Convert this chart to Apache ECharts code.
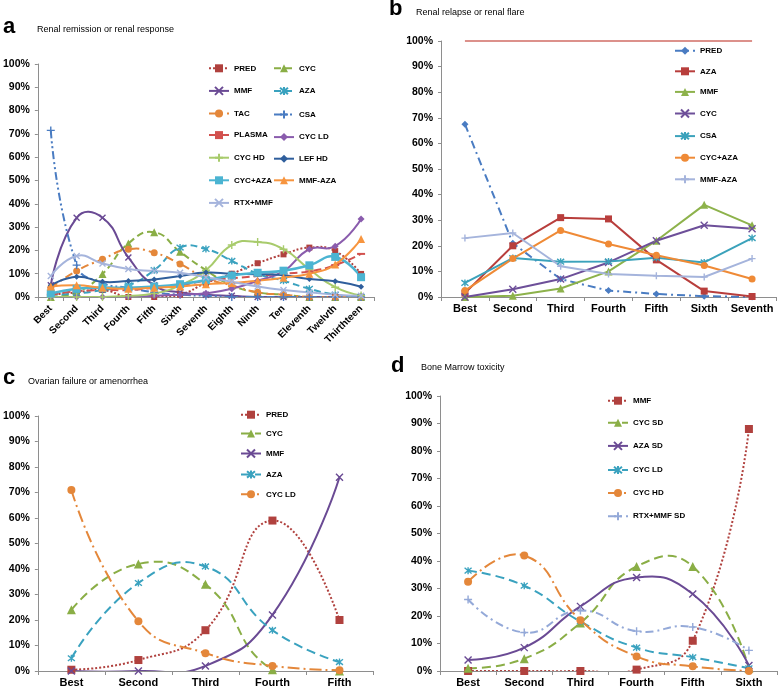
<!DOCTYPE html>
<html><head><meta charset="utf-8">
<script src="https://cdn.jsdelivr.net/npm/echarts@6/dist/echarts.min.js"></script>
<style>html,body{margin:0;padding:0;background:#fff}#c{width:778px;height:688px}</style>
</head><body><div id="c"></div>
<script>
// ---------- DATA ----------
const catsA = ['Best','Second','Third','Fourth','Fifth','Sixth','Seventh','Eighth','Ninth','Ten','Eleventh','Twelvth','Thirthteen'];
const catsB = ['Best','Second','Third','Fourth','Fifth','Sixth','Seventh'];
const catsC = ['Best','Second','Third','Fourth','Fifth'];
const catsD = ['Best','Second','Third','Fourth','Fifth','Sixth'];

// panel a: Renal remission or renal response (%)
const aPRED    = [1, 2, 3, 0, 0, 1, 6, 10, 14.5, 18.3, 21.2, 19.7, 9.9];
const aCYC     = [0, 2, 9.9, 23, 27.8, 19.4, 11.5, 5, 2, 1, 0, 0, 0];
const aMMF     = [5, 34, 34, 17, 5, 2, 1, 0.5, 0, 0, 0, 0, 0];
const aAZA     = [1, 1.5, 3, 5, 11.5, 21.2, 20.6, 15.5, 10, 7, 3.5, 1, 0];
const aTAC     = [4, 11.2, 16.2, 20.5, 19, 14.2, 8, 5, 2, 1, 0, 0, 0];
const aCSA     = [71.5, 13.7, 6, 4, 2, 1, 0.5, 0, 0, 0, 0, 0, 0];
const aPLASMA  = [1, 2.5, 3, 3, 4, 5, 7, 8, 9, 10, 11, 13.7, 18.5];
const aCYCLD   = [0, 0, 0, 0, 0.5, 1, 1.6, 3.5, 7, 11, 20.5, 21.8, 33.5];
const aCYCHD   = [0, 0, 0, 0.5, 1.5, 5, 11.5, 22.3, 23.6, 20.5, 11.9, 4.2, 0.6];
const aLEFHD   = [5, 8.7, 6.5, 6.9, 7.5, 9, 10.5, 10, 9.8, 9.3, 7.7, 6.8, 4.4];
const aCYCAZA  = [1.5, 3.5, 4, 4, 4.5, 5.5, 7.2, 9.2, 10.4, 11.3, 13.6, 17.2, 8.5];
const aMMFAZA  = [4.5, 5, 4, 3.5, 4, 4.5, 5.5, 6, 7, 8.3, 10, 14, 24.9];
const aRTXMMF  = [9, 17.6, 14.4, 12, 11.2, 10.4, 8.5, 6.5, 4.5, 3, 2, 1, 0.5];

// panel b: Renal relapse or renal flare (%)
const bTOP     = [100, 100, 100, 100, 100, 100, 100];
const bPRED    = [67.5, 21, 7, 2.5, 1.2, 0.3, 0];
const bAZA     = [1.5, 20, 31, 30.5, 14.5, 2.3, 0.2];
const bMMF     = [0, 0.5, 3.3, 10, 22, 36, 28];
const bCYC     = [0, 3, 7, 13.5, 22, 28, 26.7];
const bCSA     = [5.5, 15.2, 13.8, 13.9, 15.3, 13.5, 23];
const bCYCAZA  = [2.5, 15, 26, 20.7, 16.3, 12.3, 7];
const bMMFAZA  = [23, 25, 12, 9, 8.3, 7.8, 15];

// panel c: Ovarian failure or amenorrhea (%)
const cPRED    = [0.5, 4.3, 16, 59, 20];
const cCYC     = [24, 42, 34, 0.5, 0];
const cMMF     = [0, 0, 2, 22, 76];
const cAZA     = [5, 34.5, 41, 16, 3.5];
const cCYCLD   = [71, 19.5, 7, 2, 0.3];

// panel d: Bone Marrow toxicity (%)
const dMMF     = [0, 0, 0, 0.5, 11, 88];
const dCYCSD   = [1, 4.5, 17.5, 38, 38, 1];
const dAZASD   = [4, 8.5, 23.5, 34, 28, 2];
const dCYCLD   = [36.5, 31, 18, 8.5, 5, 1];
const dCYCHD   = [32.5, 42, 18.5, 5.3, 1.7, 0];
const dRTXMMF  = [26, 14, 22, 14.5, 16, 7.5];

const yTicks = [0,10,20,30,40,50,60,70,80,90,100];

// ---------- STYLE ----------
const FONT = '"Liberation Sans", Arial, sans-serif';
const SYM = {
  x: 'path://M0,0L10,10M10,0L0,10',
  plus: 'path://M5,0L5,10M0,5L10,5',
  star: 'path://M1,1L9,9M9,1L1,9M5,0L5,10'
};
const DOT = [2,2], DASH = [7,4], DASHDOT = [8,4,2,4], LDASHDOT = [12,4,2,4], DDD = [8,3,2,3,2,3];

function mk(panel, name, data, color, type, symbol, size, smooth, width) {
  const idx = 'abcd'.indexOf(panel);
  const w = width || 2;
  const isPath = typeof symbol === 'string' && symbol.indexOf('path://') === 0;
  const line = {
    type: 'line', name: panel + '|' + name, data: data,
    xAxisIndex: idx, yAxisIndex: idx, smooth: false, z: 3,
    symbol: symbol, symbolSize: size, showSymbol: symbol !== 'none',
    lineStyle: { color: color, width: smooth ? 0 : w, type: type || 'solid' },
    itemStyle: isPath ? { color: color, borderColor: color, borderWidth: 1.4 } : { color: color },
    emphasis: { disabled: true }, silent: true, animation: false
  };
  if (!smooth) return [line];
  const curve = {
    type: 'custom', name: panel + '|' + name + '~', xAxisIndex: idx, yAxisIndex: idx,
    silent: true, animation: false, z: 2, clip: true,
    data: data.map((v, i) => [i, v]),
    renderItem: function (params, api) {
      if (params.dataIndex !== 0) return null;
      const pts = data.map((v, i) => api.coord([i, v]));
      return { type: 'polyline', shape: { points: pts, smooth: 0.5 },
        style: { stroke: color, lineWidth: w, lineDash: (type === 'solid' || !type) ? null : type, fill: 'none' } };
    }
  };
  return [curve, line];
}

const series = [].concat(
  mk('a','PRED',aPRED,'#b0413e',DOT,'rect',6,true),
  mk('a','CYC',aCYC,'#8aae46',DASH,'triangle',8,true),
  mk('a','MMF',aMMF,'#6a4a94','solid',SYM.x,6,true),
  mk('a','AZA',aAZA,'#3aa2bf',DASH,SYM.star,7,true),
  mk('a','TAC',aTAC,'#e4873a',DASHDOT,'circle',7,true),
  mk('a','CSA',aCSA,'#4a7cc2',DDD,SYM.plus,8,true),
  mk('a','PLASMA',aPLASMA,'#d2514e',[8,4],'rect',[8,2],true),
  mk('a','CYC LD',aCYCLD,'#8a5cad','solid','diamond',7,true),
  mk('a','CYC HD',aCYCHD,'#a8cb6c','solid',SYM.plus,8,true),
  mk('a','LEF HD',aLEFHD,'#2f5e9c','solid','diamond',6,true),
  mk('a','CYC+AZA',aCYCAZA,'#4bb4d2','solid','rect',8,true,2.5),
  mk('a','MMF-AZA',aMMFAZA,'#f7953f','solid','triangle',8,true),
  mk('a','RTX+MMF',aRTXMMF,'#a5b4dc','solid',SYM.x,6,true),

  mk('b','TOP',bTOP,'#dc918b','solid','none',0,false,2),
  mk('b','PRED',bPRED,'#4a7cc2',DASHDOT,'diamond',7,false),
  mk('b','AZA',bAZA,'#b83e3c','solid','rect',7,false),
  mk('b','MMF',bMMF,'#8db24b','solid','triangle',8,false),
  mk('b','CYC',bCYC,'#6d4f99','solid',SYM.x,7,false),
  mk('b','CSA',bCSA,'#3ba2bb','solid',SYM.star,7,false),
  mk('b','CYC+AZA',bCYCAZA,'#ef8a36','solid','circle',7,false),
  mk('b','MMF-AZA',bMMFAZA,'#a5b4dc','solid',SYM.plus,7,false),

  mk('c','PRED',cPRED,'#b0413e',DOT,'rect',8,true),
  mk('c','CYC',cCYC,'#8aae46',[9,5],'triangle',9,true),
  mk('c','MMF',cMMF,'#6a4a94','solid',SYM.x,7,true),
  mk('c','AZA',cAZA,'#3aa2bf',[9,5],SYM.star,7,true),
  mk('c','CYC LD',cCYCLD,'#e4873a',LDASHDOT,'circle',8,true),

  mk('d','MMF',dMMF,'#b0413e',DOT,'rect',8,true),
  mk('d','CYC SD',dCYCSD,'#8aae46',[9,5],'triangle',9,true),
  mk('d','AZA SD',dAZASD,'#6a4a94','solid',SYM.x,7,true),
  mk('d','CYC LD',dCYCLD,'#3aa2bf',[9,5],SYM.star,7,true),
  mk('d','CYC HD',dCYCHD,'#e4873a',LDASHDOT,'circle',8,true),
  mk('d','RTX+MMF SD',dRTXMMF,'#94a9d8',DASHDOT,SYM.plus,8,true)
);

const AX = '#8e8e8e';
function yAx(i) {
  return { type:'value', gridIndex:i, min:yTicks[0], max:yTicks[yTicks.length-1], interval:yTicks[1]-yTicks[0],
    axisLine:{show:true,lineStyle:{color:AX}}, axisTick:{show:true,length:3,lineStyle:{color:AX}},
    splitLine:{show:false},
    axisLabel:{formatter:'{value}%', fontSize:10.5, fontWeight:'bold', color:'#000', margin:8, fontFamily:FONT} };
}
function xAx(i, cats, rot) {
  return { type:'category', gridIndex:i, data:cats, boundaryGap:true,
    axisLine:{show:true,lineStyle:{color:AX}}, axisTick:{show:true,length:4,lineStyle:{color:AX}},
    splitLine:{show:false},
    axisLabel:{interval:0, rotate:rot||0, fontSize:rot?10:11, fontWeight:'bold', color:'#000',
      margin:rot?10:6, fontFamily:FONT} };
}
function lg(panel, names, left, top, gap) {
  return { data: names.map(n => panel + '|' + n), orient:'vertical', left:left, top:top, padding:0,
    itemWidth:20, itemHeight:10, itemGap:gap, itemTextGap:3, selectedMode:false,
    lineStyle:{width:2},
    formatter: n => n.split('|')[1],
    textStyle:{fontSize:8, fontWeight:'bold', color:'#000', fontFamily:FONT} };
}
function txt(x, y, t, size, bold) {
  return { type:'text', x:x, y:y, silent:true,
    style:{ text:t, fill:'#000', font:(bold?'bold ':'') + size + 'px ' + FONT, verticalAlign:'middle' } };
}

const option = {
  animation:false,
  backgroundColor:'#fff',
  grid:[
    {left:36, top:64, width:338, height:233},
    {left:441, top:41, width:335, height:256},
    {left:36, top:416, width:337, height:255},
    {left:440, top:396, width:337, height:276}
  ],
  xAxis:[ xAx(0,catsA,45), xAx(1,catsB), xAx(2,catsC), xAx(3,catsD) ],
  yAxis:[ yAx(0), yAx(1), yAx(2), yAx(3) ],
  legend:[
    lg('a',['PRED','MMF','TAC','PLASMA','CYC HD','CYC+AZA','RTX+MMF'],208,64.3,13.6),
    lg('a',['CYC','AZA','CSA','CYC LD','LEF HD','MMF-AZA'],273,64.3,13.6),
    lg('b',['PRED','AZA','MMF','CYC','CSA','CYC+AZA','MMF-AZA'],674,46.7,12.6),
    lg('c',['PRED','CYC','MMF','AZA','CYC LD'],240,410.7,10.9),
    lg('d',['MMF','CYC SD','AZA SD','CYC LD','CYC HD','RTX+MMF SD'],607,396.7,14.1)
  ],
  graphic:[
    txt(3,27.3,'a',22,true), txt(37,30,'Renal remission or renal response',9,false),
    txt(389,9,'b',22,true), txt(416,12.8,'Renal relapse or renal flare',9,false),
    txt(3,378,'c',22,true), txt(28,381.5,'Ovarian failure or amenorrhea',9,false),
    txt(391,365.6,'d',22,true), txt(421,368,'Bone Marrow toxicity',9,false)
  ],
  series: series
};
const chart = echarts.init(document.getElementById('c'), null, {renderer:'canvas'});
chart.setOption(option);
</script></body></html>
